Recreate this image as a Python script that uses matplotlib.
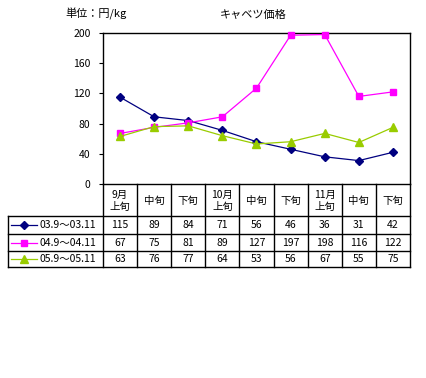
import numpy as np
import matplotlib.pyplot as plt

plt.rcParams['font.family'] = ['Noto Sans CJK JP', 'DejaVu Sans']

# data
periods = ['9月\n上旬', '中旬', '下旬', '10月\n上旬', '中旬', '下旬', '11月\n上旬', '中旬', '下旬']
series_names = ['03.9～03.11', '04.9～04.11', '05.9～05.11']
s03 = [115, 89, 84, 71, 56, 46, 36, 31, 42]
s04 = [67, 75, 81, 89, 127, 197, 198, 116, 122]
s05 = [63, 76, 77, 64, 53, 56, 67, 55, 75]
yticks = [0, 40, 80, 120, 160, 200]

colors = ['#000080', '#ff00ff', '#99cc00']
markers = ['D', 's', '^']
msizes = [4.5, 5, 5.5]
all_series = [s03, s04, s05]

W, H = 426, 378
fig = plt.figure(figsize=(W / 100, H / 100), dpi=100)

# plot area in pixels
left, right, top, bottom = 103, 410, 33, 184
ax = fig.add_axes([left / W, 1 - bottom / H, (right - left) / W, (bottom - top) / H])
x = np.arange(len(periods))
for vals, c, m, ms in zip(all_series, colors, markers, msizes):
    ax.plot(x, vals, color=c, lw=0.9, marker=m, ms=ms, mec=c, mfc=c, clip_on=False, zorder=3)
ax.set_xlim(-0.5, len(periods) - 0.5)
ax.set_ylim(0, 200)
ax.set_yticks(yticks)
ax.set_xticks([])
ax.tick_params(axis='y', length=3, width=0.8, labelsize=7.5, pad=6)
for sp in ax.spines.values():
    sp.set_linewidth(1.0)

fig.text(65 / W, 1 - 14 / H, '単位：円/kg', fontsize=8, va='center')
fig.text(220 / W, 1 - 15 / H, 'キャベツ価格', fontsize=8, va='center')

# table below the plot
tab = fig.add_axes([0, 0, 1, 1])
tab.set_xlim(0, W)
tab.set_ylim(H, 0)
tab.axis('off')
colw = (right - left) / len(periods)
row_y = [bottom, 216, 234, 251, 267]
tbl_left = 8
lw = 1.0
for i in range(len(periods) + 1):
    xx = left + i * colw
    tab.plot([xx, xx], [bottom, row_y[-1]], color='black', lw=lw)
for yy in row_y[1:]:
    tab.plot([tbl_left, right], [yy, yy], color='black', lw=lw)
tab.plot([tbl_left, tbl_left], [row_y[1], row_y[-1]], color='black', lw=lw)

for i, p in enumerate(periods):
    cx = left + (i + 0.5) * colw
    tab.text(cx, (row_y[0] + row_y[1]) / 2 + 1, p, ha='center', va='center',
             fontsize=7.5, linespacing=1.25)

for r, (name, vals, c, m, ms) in enumerate(zip(series_names, all_series, colors, markers, msizes)):
    cy = (row_y[r + 1] + row_y[r + 2]) / 2
    tab.plot([11, 37], [cy, cy], color=c, lw=0.9)
    tab.plot([24], [cy], marker=m, ms=ms, color=c)
    tab.text(40, cy, name, ha='left', va='center', fontsize=7.5)
    for i, v in enumerate(vals):
        tab.text(left + (i + 0.5) * colw, cy, str(v), ha='center', va='center', fontsize=7.5)

fig.savefig('out.png', dpi=100)
